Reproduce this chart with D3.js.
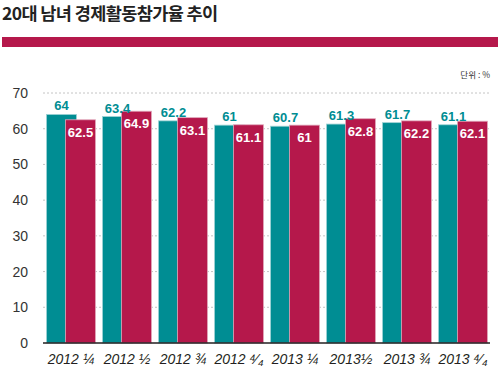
<!DOCTYPE html>
<html>
<head>
<meta charset="utf-8">
<script src="https://cdn.jsdelivr.net/npm/d3@7"></script>
<style>
  body { margin: 0; background: #fff; }
  svg { display: block; }
</style>
</head>
<body>
<script>
const width = 500;
const height = 377;

// data
const quarters = ["2012 ¼", "2012 ½", "2012 ¾", "2012 ⁴⁄₄", "2013 ¼", "2013½", "2013 ¾", "2013 ⁴⁄₄"];
const menRate = [64, 63.4, 62.2, 61, 60.7, 61.3, 61.7, 61.1];
const womenRate = [62.5, 64.9, 63.1, 61.1, 61, 62.8, 62.2, 62.1];
const yTicks = [0, 10, 20, 30, 40, 50, 60, 70];

const teal = "#008d93";
const red = "#b5184b";

const svg = d3.select("body").append("svg")
    .attr("width", width)
    .attr("height", height);

// title + banner
svg.append("text")
    .attr("x", 2)
    .attr("y", 20)
    .attr("font-family", "'Noto Sans CJK KR', sans-serif")
    .attr("font-weight", 700)
    .attr("font-size", 17.5)
    .attr("letter-spacing", -0.6)
    .attr("fill", "#222")
    .text("20대 남녀 경제활동참가율 추이");

svg.append("rect")
    .attr("x", 2)
    .attr("y", 37)
    .attr("width", 496)
    .attr("height", 10)
    .attr("fill", red);

svg.append("text")
    .attr("x", 490)
    .attr("y", 78)
    .attr("text-anchor", "end")
    .attr("font-family", "'Noto Sans CJK KR', sans-serif")
    .attr("font-size", 8.5)
    .attr("fill", "#333")
    .text("단위 : %");

const x = d3.scaleBand()
    .domain(quarters)
    .range([43, 491])
    .paddingInner(0.125)
    .paddingOuter(0.0625);

const y = d3.scaleLinear()
    .domain([0, 70])
    .range([343, 93]);

// gridlines
svg.append("g")
    .selectAll("line")
    .data(yTicks.filter(d => d > 0))
    .enter().append("line")
    .attr("x1", 43)
    .attr("x2", 490)
    .attr("y1", d => y(d))
    .attr("y2", d => y(d))
    .attr("stroke", "#b5b5b5")
    .attr("stroke-width", 0.8)
    .attr("stroke-dasharray", "2,2");

// y tick labels
svg.append("g")
    .selectAll("text")
    .data(yTicks)
    .enter().append("text")
    .attr("x", 28)
    .attr("y", d => y(d) + 5)
    .attr("text-anchor", "end")
    .attr("font-family", "'Liberation Sans', Arial, sans-serif")
    .attr("font-size", 14)
    .attr("fill", "#333")
    .text(d => d);

const barW = 30;
const offset = 19;

// teal bars
svg.append("g")
    .selectAll("rect")
    .data(menRate)
    .enter().append("rect")
    .attr("x", (d, i) => x(quarters[i]))
    .attr("y", d => y(d))
    .attr("width", barW)
    .attr("height", d => y(0) - y(d))
    .attr("fill", teal)
    .attr("stroke", "#9fd3d5")
    .attr("stroke-width", 0.8);

// red bars on top
svg.append("g")
    .selectAll("rect")
    .data(womenRate)
    .enter().append("rect")
    .attr("x", (d, i) => x(quarters[i]) + offset)
    .attr("y", d => y(d))
    .attr("width", barW)
    .attr("height", d => y(0) - y(d))
    .attr("fill", red)
    .attr("stroke", "#e0a9bb")
    .attr("stroke-width", 0.8);

// value labels
svg.append("g")
    .selectAll("text")
    .data(menRate)
    .enter().append("text")
    .attr("x", (d, i) => x(quarters[i]) + barW / 2)
    .attr("y", d => y(d) - 4)
    .attr("text-anchor", "middle")
    .attr("font-family", "'Liberation Sans', Arial, sans-serif")
    .attr("font-weight", 700)
    .attr("font-size", 13)
    .attr("fill", teal)
    .text(d => d);

svg.append("g")
    .selectAll("text")
    .data(womenRate)
    .enter().append("text")
    .attr("x", (d, i) => x(quarters[i]) + offset + barW / 2)
    .attr("y", d => y(d) + 17)
    .attr("text-anchor", "middle")
    .attr("font-family", "'Liberation Sans', Arial, sans-serif")
    .attr("font-weight", 700)
    .attr("font-size", 13)
    .attr("fill", "#fff")
    .text(d => d);

// baseline
svg.append("line")
    .attr("x1", 43)
    .attr("x2", 490)
    .attr("y1", y(0))
    .attr("y2", y(0))
    .attr("stroke", "#231f20")
    .attr("stroke-width", 1.5);

// x labels
svg.append("g")
    .selectAll("text")
    .data(quarters)
    .enter().append("text")
    .attr("x", d => x(d) + x.bandwidth() / 2)
    .attr("y", 364)
    .attr("text-anchor", "middle")
    .attr("font-family", "'Liberation Sans', Arial, sans-serif")
    .attr("font-style", "italic")
    .attr("font-size", 14)
    .attr("fill", "#231f20")
    .text(d => d);
</script>
</body>
</html>
